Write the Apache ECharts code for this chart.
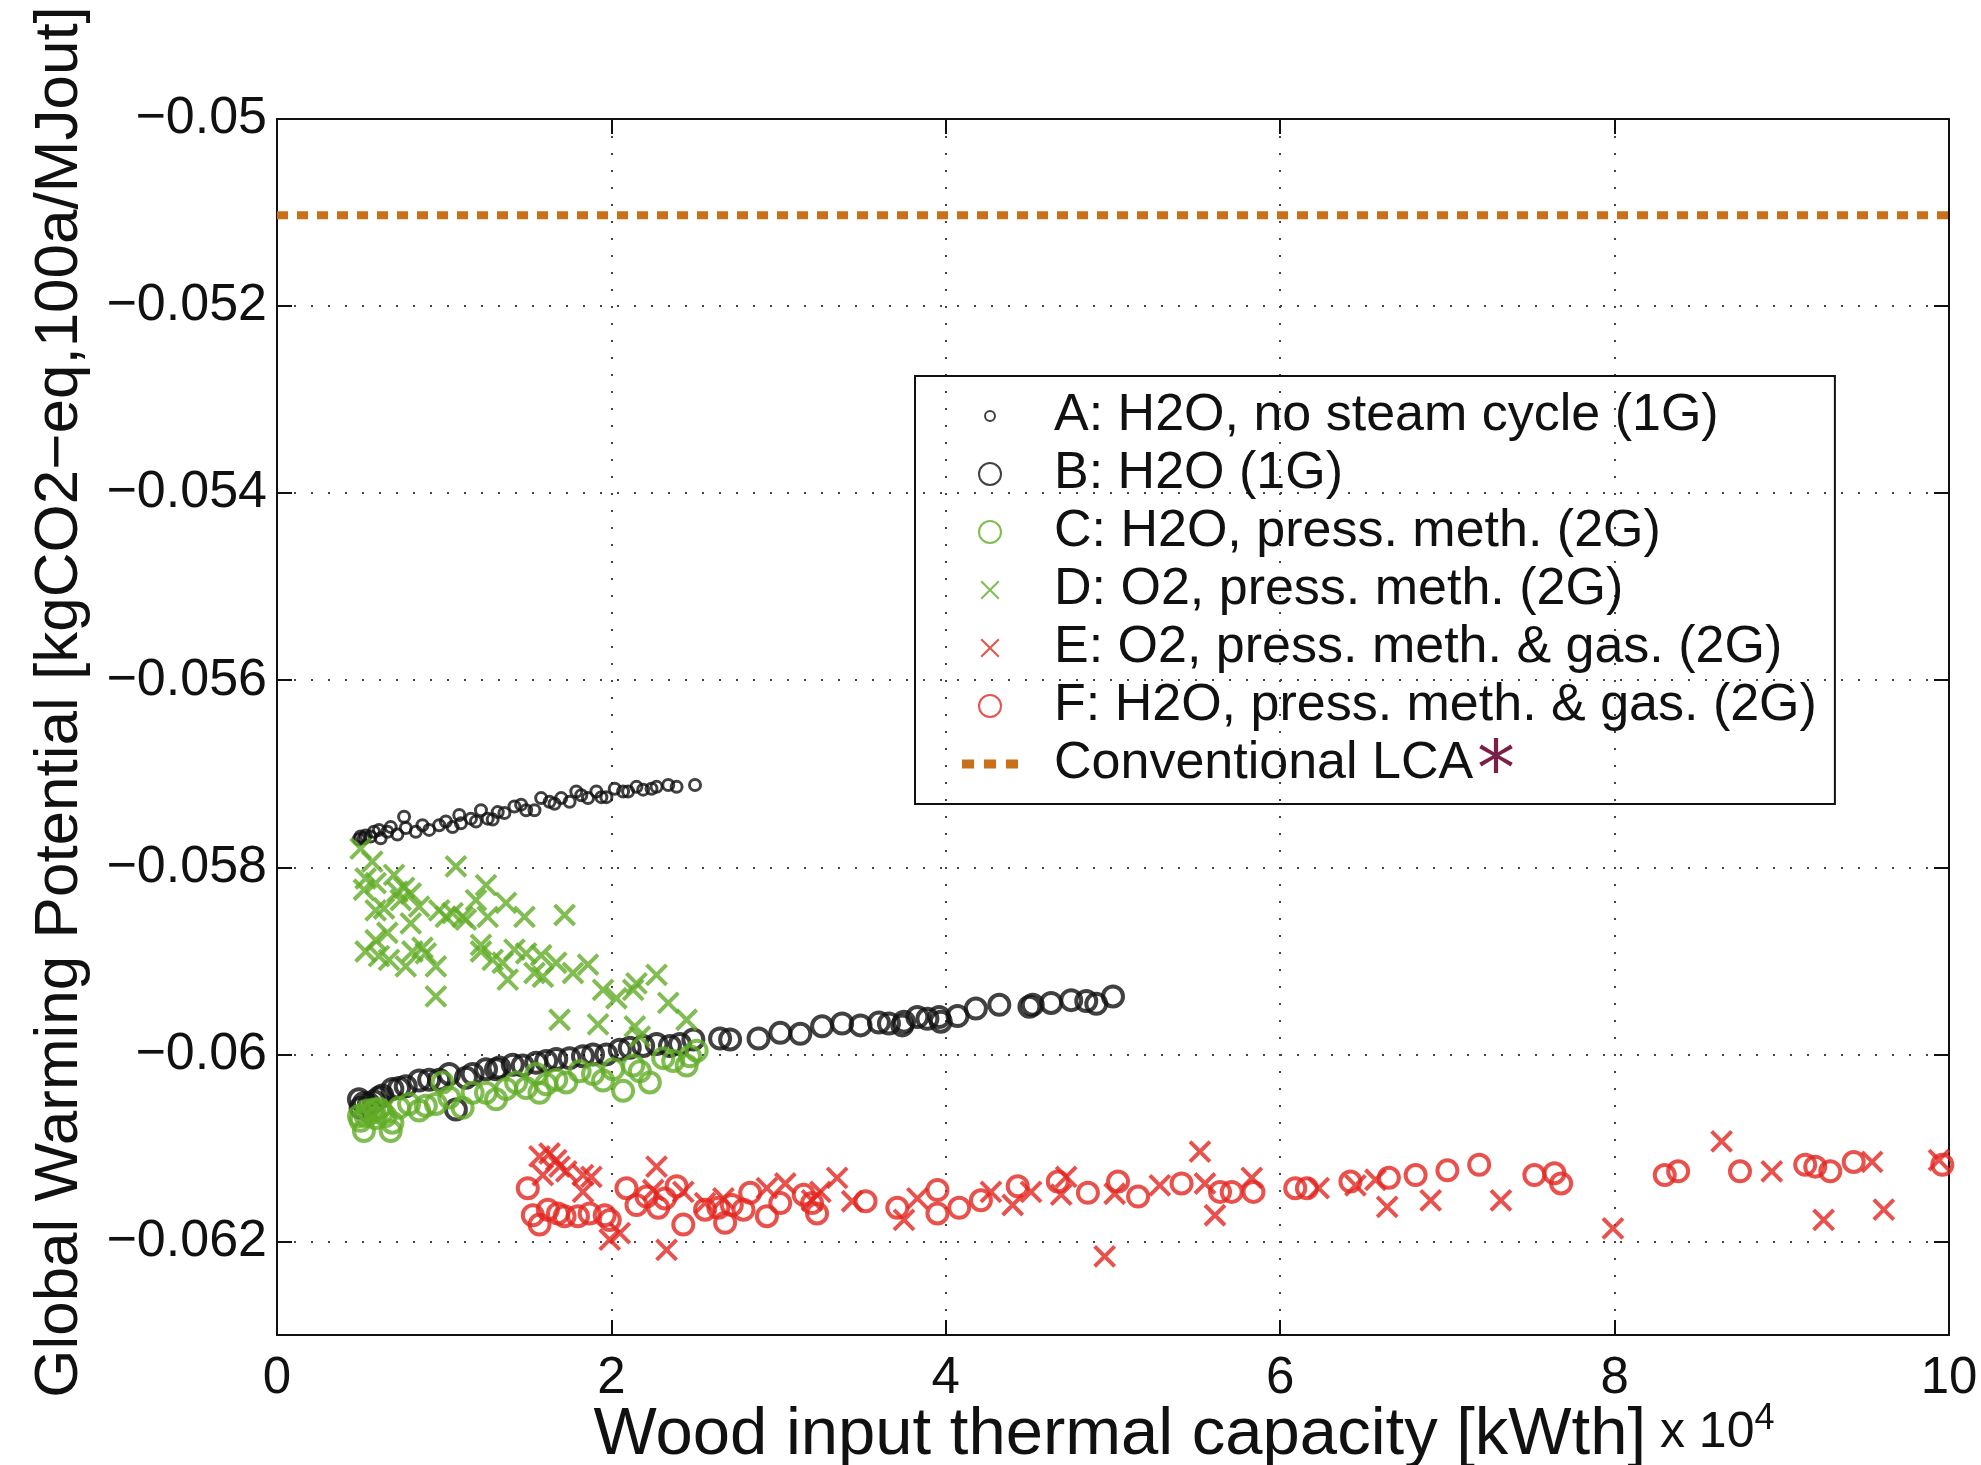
<!DOCTYPE html>
<html>
<head>
<meta charset="utf-8">
<script src="https://cdn.jsdelivr.net/npm/echarts@6/dist/echarts.min.js"></script>
<style>
html, body { margin: 0; padding: 0; background: #fff; }
#chart { width: 1981px; height: 1465px; }
</style>
</head>
<body>
<div id="chart"></div>
<script>
// x in units of 10^4 kWth, y in kgCO2-eq,100a/MJout
const xTicks = [0, 2, 4, 6, 8, 10];
const yTicks = [-0.062, -0.060, -0.058, -0.056, -0.054, -0.052, -0.050];

const legendNames = [
    'A: H2O, no steam cycle (1G)',
    'B: H2O (1G)',
    'C: H2O, press. meth. (2G)',
    'D: O2, press. meth. (2G)',
    'E: O2, press. meth. & gas. (2G)',
    'F: H2O, press. meth. & gas. (2G)',
    'Conventional LCA'
];

// A: small black circles
const pointsA = [
    [0.49,-0.05770],[0.50,-0.05767],[0.52,-0.05769],[0.53,-0.05766],[0.56,-0.05767],[0.58,-0.05762],
    [0.61,-0.05760],[0.62,-0.05769],[0.66,-0.05762],[0.68,-0.05757],[0.72,-0.05765],[0.76,-0.05746],
    [0.77,-0.05758],[0.83,-0.05762],[0.87,-0.05755],[0.91,-0.05760],[0.97,-0.05755],[1.01,-0.05751],
    [1.05,-0.05757],[1.09,-0.05744],[1.10,-0.05753],[1.16,-0.05748],[1.19,-0.05751],[1.22,-0.05739],
    [1.26,-0.05748],[1.29,-0.05749],[1.32,-0.05741],[1.36,-0.05742],[1.42,-0.05735],[1.46,-0.05733],
    [1.49,-0.05739],[1.54,-0.05739],[1.58,-0.05726],[1.63,-0.05730],[1.66,-0.05732],[1.70,-0.05726],
    [1.75,-0.05730],[1.79,-0.05719],[1.82,-0.05723],[1.86,-0.05726],[1.91,-0.05719],[1.94,-0.05725],
    [1.97,-0.05725],[2.02,-0.05716],[2.07,-0.05719],[2.10,-0.05719],[2.15,-0.05714],[2.19,-0.05717],
    [2.24,-0.05716],[2.27,-0.05714],[2.34,-0.05712],[2.39,-0.05714],[2.50,-0.05712]
];

// B: black circles
const pointsB = [
    [0.49,-0.06048],[0.50,-0.06057],[0.52,-0.06052],[0.55,-0.06053],[0.58,-0.06050],[0.61,-0.06046],
    [0.63,-0.06044],[0.69,-0.06037],[0.73,-0.06036],[0.77,-0.06034],[0.85,-0.06028],[0.91,-0.06027],
    [0.97,-0.06027],[1.03,-0.06021],[1.07,-0.06059],[1.13,-0.06025],[1.17,-0.06021],[1.25,-0.06016],
    [1.31,-0.06016],[1.33,-0.06014],[1.41,-0.06011],[1.47,-0.06012],[1.55,-0.06009],[1.61,-0.06007],
    [1.67,-0.06005],[1.75,-0.06004],[1.83,-0.06002],[1.89,-0.06000],[1.97,-0.06000],[2.05,-0.05995],
    [2.11,-0.05993],[2.19,-0.05991],[2.27,-0.05989],[2.35,-0.05991],[2.41,-0.05989],[2.49,-0.05984],
    [2.65,-0.05983],[2.71,-0.05984],[2.88,-0.05983],[3.01,-0.05977],[3.13,-0.05978],[3.26,-0.05970],
    [3.38,-0.05967],[3.49,-0.05969],[3.60,-0.05966],[3.66,-0.05967],[3.74,-0.05969],[3.75,-0.05965],
    [3.83,-0.05960],[3.89,-0.05962],[3.96,-0.05960],[3.97,-0.05965],[4.07,-0.05959],[4.18,-0.05951],
    [4.32,-0.05947],[4.50,-0.05949],[4.52,-0.05947],[4.63,-0.05945],[4.75,-0.05942],[4.84,-0.05943],
    [4.90,-0.05946],[5.00,-0.05938]
];

// C: green circles
const pointsC = [
    [0.49,-0.06066],[0.50,-0.06071],[0.52,-0.06082],[0.53,-0.06066],[0.54,-0.06060],[0.56,-0.06063],
    [0.58,-0.06059],[0.59,-0.06068],[0.61,-0.06058],[0.63,-0.06062],[0.65,-0.06066],[0.68,-0.06082],
    [0.69,-0.06073],[0.73,-0.06057],[0.79,-0.06053],[0.85,-0.06060],[0.89,-0.06055],[0.95,-0.06053],
    [0.99,-0.06030],[1.03,-0.06046],[1.11,-0.06057],[1.17,-0.06041],[1.25,-0.06041],[1.31,-0.06048],
    [1.37,-0.06037],[1.43,-0.06030],[1.49,-0.06036],[1.55,-0.06021],[1.57,-0.06041],[1.61,-0.06032],
    [1.67,-0.06027],[1.73,-0.06030],[1.81,-0.06018],[1.89,-0.06021],[1.95,-0.06028],[2.01,-0.06016],
    [2.07,-0.06039],[2.13,-0.06012],[2.17,-0.06018],[2.23,-0.06030],[2.31,-0.06004],[2.37,-0.06007],
    [2.45,-0.06012],[2.47,-0.06002],[2.51,-0.05996]
];

// D: green crosses
const pointsD = [
    [0.50,-0.05780],[0.57,-0.05794],[0.53,-0.05812],[0.59,-0.05817],[0.52,-0.05824],[0.70,-0.05808],
    [0.72,-0.05826],[0.76,-0.05822],[0.74,-0.05835],[0.80,-0.05828],[0.59,-0.05846],[0.64,-0.05844],
    [0.80,-0.05860],[0.85,-0.05842],[0.97,-0.05846],[1.01,-0.05853],[1.07,-0.05799],[1.05,-0.05849],
    [1.11,-0.05853],[1.13,-0.05856],[1.19,-0.05835],[1.25,-0.05819],[1.26,-0.05853],[1.37,-0.05838],
    [1.48,-0.05853],[1.72,-0.05851],[0.53,-0.05890],[0.59,-0.05878],[0.66,-0.05870],[0.61,-0.05895],
    [0.67,-0.05899],[0.77,-0.05906],[0.81,-0.05890],[0.87,-0.05886],[0.89,-0.05892],[0.95,-0.05906],
    [0.95,-0.05938],[1.22,-0.05883],[1.22,-0.05890],[1.29,-0.05899],[1.35,-0.05902],[1.38,-0.05920],
    [1.42,-0.05888],[1.49,-0.05892],[1.54,-0.05913],[1.58,-0.05894],[1.59,-0.05917],[1.67,-0.05902],
    [1.77,-0.05913],[1.86,-0.05904],[1.95,-0.05931],[2.03,-0.05940],[2.13,-0.05931],[2.15,-0.05924],
    [2.27,-0.05915],[2.34,-0.05945],[2.45,-0.05963],[1.69,-0.05963],[1.92,-0.05968],[2.14,-0.05970],
    [2.17,-0.05981]
];

// E: red crosses
const pointsE = [
    [1.57,-0.06109],[1.63,-0.06106],[1.67,-0.06113],[1.69,-0.06120],[1.73,-0.06125],[1.83,-0.06129],
    [1.88,-0.06131],[1.83,-0.06147],[1.59,-0.06129],[1.99,-0.06198],[2.05,-0.06191],[2.27,-0.06120],
    [2.25,-0.06145],[2.33,-0.06209],[2.43,-0.06147],[2.56,-0.06159],[2.67,-0.06154],[2.93,-0.06143],
    [3.04,-0.06138],[3.20,-0.06156],[3.25,-0.06147],[3.35,-0.06132],[3.44,-0.06157],[3.75,-0.06177],
    [3.83,-0.06154],[4.27,-0.06147],[4.40,-0.06161],[4.51,-0.06147],[4.69,-0.06150],[4.72,-0.06131],
    [4.95,-0.06216],[5.01,-0.06149],[5.28,-0.06140],[5.52,-0.06104],[5.55,-0.06138],[5.61,-0.06172],
    [5.83,-0.06132],[6.23,-0.06143],[6.45,-0.06140],[6.57,-0.06134],[6.64,-0.06163],[6.90,-0.06156],
    [7.32,-0.06156],[7.99,-0.06186],[8.64,-0.06093],[8.94,-0.06125],[9.25,-0.06177],[9.54,-0.06115],
    [9.61,-0.06166],[9.94,-0.06113]
];

// F: red circles
const pointsF = [
    [1.50,-0.06143],[1.53,-0.06172],[1.57,-0.06182],[1.62,-0.06166],[1.68,-0.06170],[1.72,-0.06173],
    [1.80,-0.06173],[1.87,-0.06170],[1.96,-0.06172],[1.99,-0.06177],[2.09,-0.06143],[2.15,-0.06161],
    [2.21,-0.06152],[2.28,-0.06164],[2.32,-0.06154],[2.39,-0.06141],[2.43,-0.06182],[2.56,-0.06166],
    [2.64,-0.06164],[2.68,-0.06180],[2.72,-0.06161],[2.79,-0.06166],[2.83,-0.06148],[2.93,-0.06173],
    [3.01,-0.06159],[3.15,-0.06150],[3.20,-0.06159],[3.23,-0.06170],[3.52,-0.06157],[3.71,-0.06164],
    [3.95,-0.06145],[3.95,-0.06170],[4.08,-0.06164],[4.21,-0.06156],[4.43,-0.06141],[4.67,-0.06136],
    [4.85,-0.06148],[5.03,-0.06136],[5.15,-0.06152],[5.41,-0.06138],[5.64,-0.06147],[5.71,-0.06147],
    [5.84,-0.06147],[6.09,-0.06143],[6.16,-0.06143],[6.42,-0.06136],[6.65,-0.06132],[6.81,-0.06129],
    [7.00,-0.06124],[7.19,-0.06118],[7.52,-0.06129],[7.64,-0.06127],[7.68,-0.06138],[8.30,-0.06129],
    [8.38,-0.06125],[8.75,-0.06125],[9.14,-0.06118],[9.20,-0.06120],[9.29,-0.06125],[9.43,-0.06115],
    [9.96,-0.06118]
];

// conventional LCA reference level
const lcaX = [0, 10];
const lcaY = [-0.05103, -0.05103];

const font = '"Liberation Sans", Arial, Helvetica, sans-serif';
const black = '#111';
const green = '#62ad27';
const red = '#e3261f';
const orange = '#c8701a';

const crossPath = 'path://M0,0L10,10M10,0L0,10';
const iconSmall = 'path://M0,0M20,20M10,5.5A4.5,4.5,0,0,1,10,14.5A4.5,4.5,0,0,1,10,5.5Z';
const iconCross = 'path://M0,0M20,20M2,2L18,18M18,2L2,18';
const iconDots = 'path://M0,0h11v8h-11zM20,0h11v8h-11zM40,0h11v8h-11z';

function scatter(name, data, symbol, size, color, width) {
    return {
        name: name,
        type: 'scatter',
        data: data,
        symbol: symbol,
        symbolSize: size,
        itemStyle: { color: 'rgba(0,0,0,0)', borderColor: color, borderWidth: width },
        emphasis: { disabled: true }
    };
}

const chart = echarts.init(document.getElementById('chart'));

const option = {
    animation: false,
    backgroundColor: '#fff',
    grid: { left: 277, right: 32, top: 119, bottom: 130, outerBoundsMode: 'none' },
    legend: {
        orient: 'vertical',
        left: 915,
        top: 376,
        selectedMode: false,
        itemWidth: 56,
        itemHeight: 22,
        itemGap: 6,
        padding: [14, 18, 14, 47],
        borderColor: '#111',
        borderWidth: 2,
        textStyle: {
            fontFamily: font,
            fontSize: 52,
            lineHeight: 52,
            color: black,
            padding: [0, 0, 0, 31]
        },
        data: [
            { name: legendNames[0], icon: iconSmall },
            { name: legendNames[1], icon: 'circle' },
            { name: legendNames[2], icon: 'circle' },
            { name: legendNames[3], icon: iconCross },
            { name: legendNames[4], icon: iconCross },
            { name: legendNames[5], icon: 'circle' },
            { name: legendNames[6], icon: iconDots, itemStyle: { color: orange, borderWidth: 0 } }
        ]
    },
    // footnote asterisk after "Conventional LCA" in the legend
    graphic: [
        {
            type: 'text',
            x: 1477,
            y: 775,
            style: {
                text: '*',
                fontFamily: '"DejaVu Sans", sans-serif',
                fontSize: 76,
                fill: '#7a1f45',
                align: 'left',
                verticalAlign: 'middle'
            }
        }
    ],
    xAxis: [
        {
            type: 'value',
            min: 0,
            max: 10,
            interval: 2,
            name: '{t|Wood input thermal capacity [kWth]}{s| x 10}{p|4}',
            nameLocation: 'middle',
            nameGap: 66,
            nameMoveOverlap: false,
            nameTextStyle: {
                padding: [0, 0, 0, 142],
                rich: {
                    t: { fontFamily: font, fontSize: 67, color: black, lineHeight: 68, verticalAlign: 'bottom' },
                    s: { fontFamily: font, fontSize: 50, color: black, lineHeight: 50, verticalAlign: 'bottom', padding: [0, 0, 11, 0] },
                    p: { fontFamily: font, fontSize: 36, color: black, lineHeight: 6, verticalAlign: 'top' }
                }
            },
            axisLine: { show: true, lineStyle: { color: black, width: 2 } },
            axisTick: { show: true, inside: true, length: 15, lineStyle: { color: black, width: 2 } },
            axisLabel: { fontFamily: font, fontSize: 51, color: black, margin: 18 },
            splitLine: { show: true, lineStyle: { color: '#444', width: 2, type: [2, 15] } }
        },
        {
            type: 'value',
            position: 'top',
            min: 0,
            max: 10,
            interval: 2,
            axisLine: { show: true, onZero: false, lineStyle: { color: black, width: 2 } },
            axisTick: { show: true, inside: true, length: 15, lineStyle: { color: black, width: 2 } },
            axisLabel: { show: false },
            splitLine: { show: false }
        }
    ],
    yAxis: [
        {
            type: 'value',
            min: -0.063,
            max: -0.05,
            splitNumber: 7,
            name: 'Global Warming Potential [kgCO2\u2212eq,100a/MJout]',
            nameLocation: 'middle',
            nameGap: 186,
            nameMoveOverlap: false,
            nameTextStyle: { fontFamily: font, fontSize: 62, color: black, padding: [0, 0, 0, 50] },
            axisLine: { show: true, onZero: false, lineStyle: { color: black, width: 2 } },
            axisTick: { show: true, inside: true, length: 15, customValues: yTicks, lineStyle: { color: black, width: 2 } },
            axisLabel: {
                fontFamily: font,
                fontSize: 52,
                color: black,
                margin: 10,
                customValues: yTicks,
                formatter: function (v) {
                    return '\u2212' + String(Math.abs(v));
                }
            },
            splitLine: { show: true, lineStyle: { color: '#444', width: 2, type: [2, 15] } }
        },
        {
            type: 'value',
            position: 'right',
            min: -0.063,
            max: -0.05,
            splitNumber: 7,
            axisLine: { show: true, onZero: false, lineStyle: { color: black, width: 2 } },
            axisTick: { show: true, inside: true, length: 15, customValues: yTicks, lineStyle: { color: black, width: 2 } },
            axisLabel: { show: false },
            splitLine: { show: false }
        }
    ],
    series: [
        scatter(legendNames[0], pointsA, 'circle', 11, black, 3),
        scatter(legendNames[1], pointsB, 'circle', 20, black, 4),
        scatter(legendNames[2], pointsC, 'circle', 20, green, 4),
        scatter(legendNames[3], pointsD, crossPath, 20, green, 4),
        scatter(legendNames[4], pointsE, crossPath, 20, red, 4),
        scatter(legendNames[5], pointsF, 'circle', 20, red, 4),
        {
            name: legendNames[6],
            type: 'line',
            data: lcaX.map(function (x, i) { return [x, lcaY[i]]; }),
            symbol: 'none',
            itemStyle: { color: orange },
            lineStyle: { color: orange, width: 8, type: [11, 9], cap: 'butt' },
            emphasis: { disabled: true }
        }
    ]
};

chart.setOption(option);
</script>
</body>
</html>
